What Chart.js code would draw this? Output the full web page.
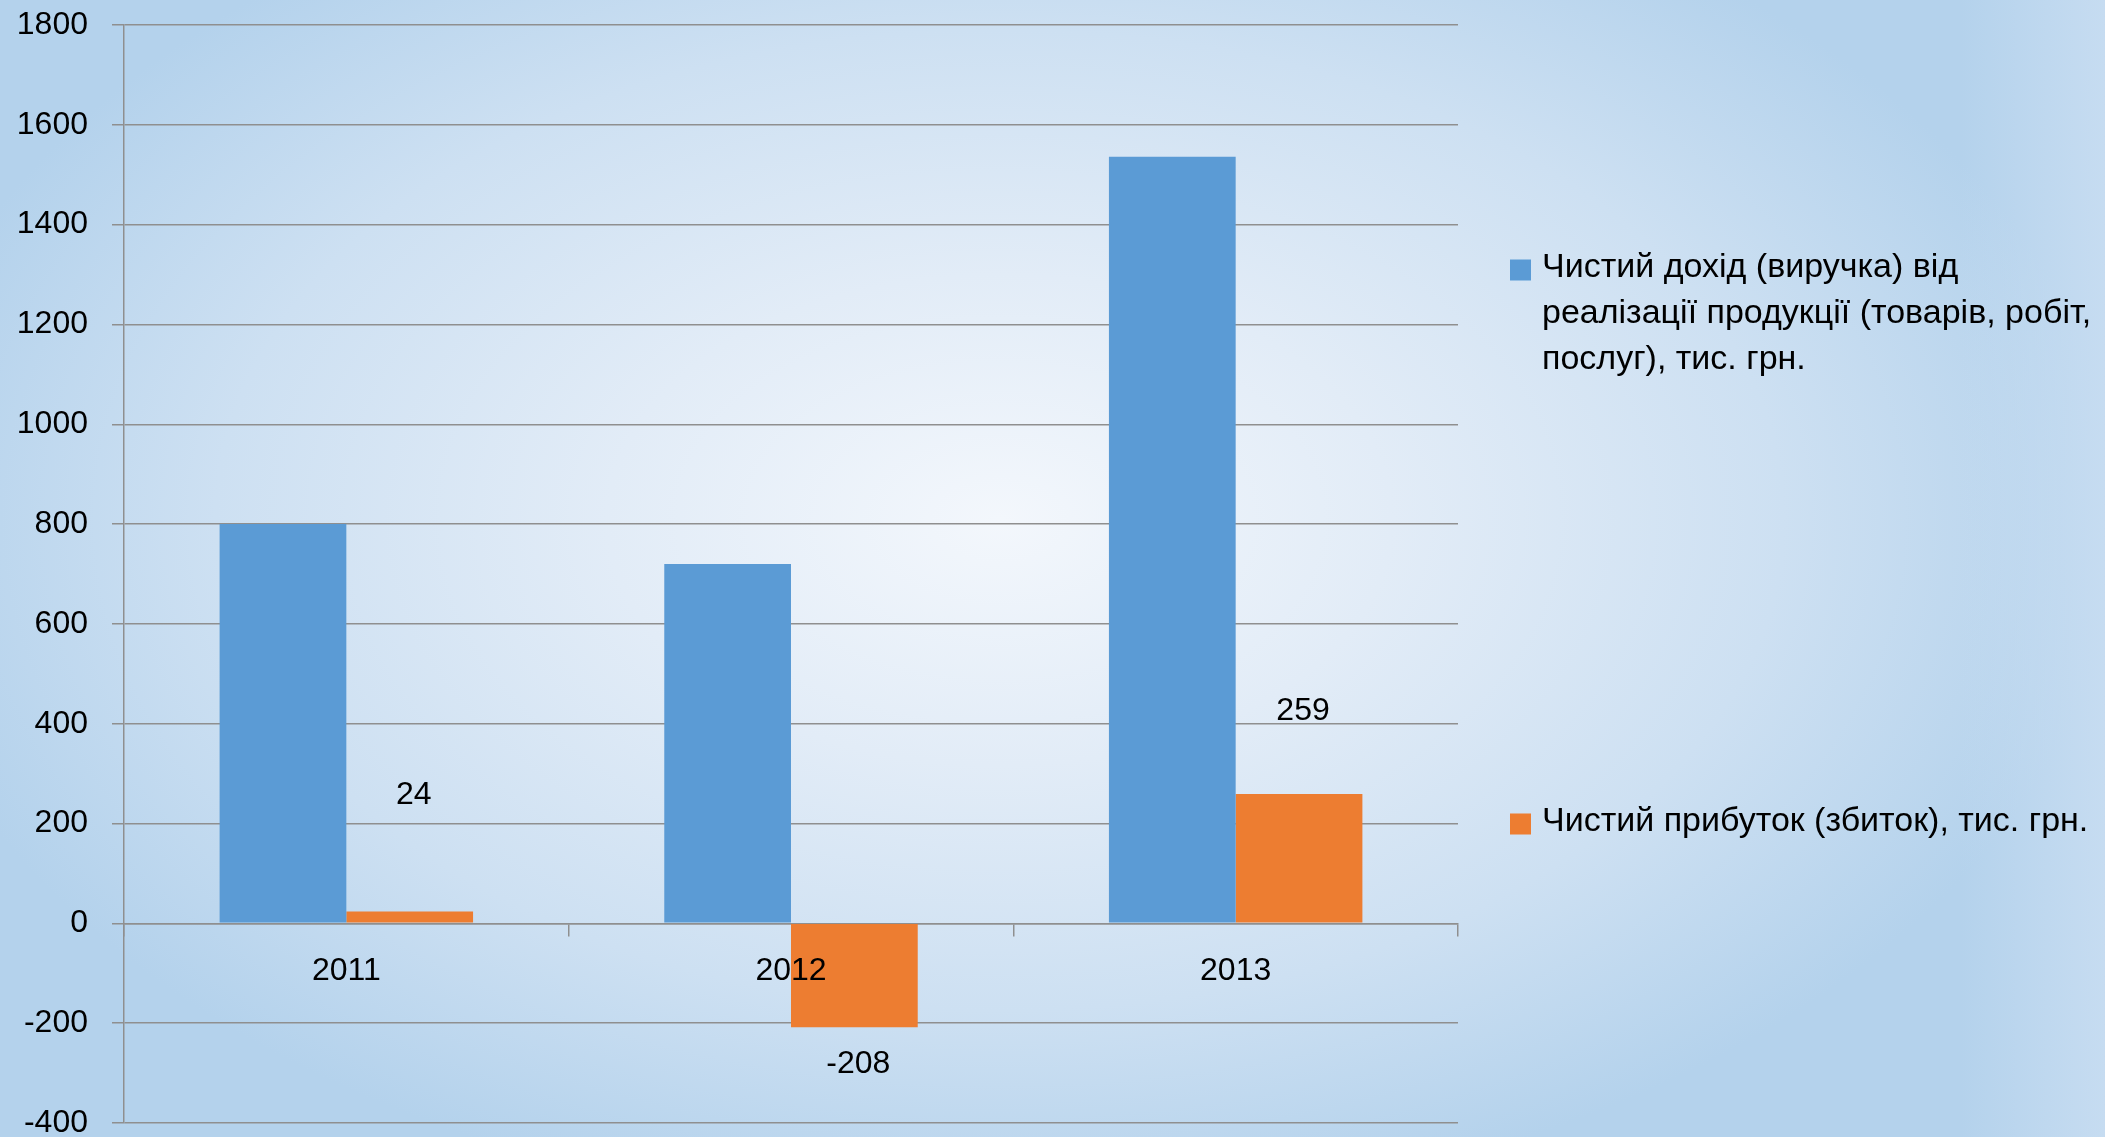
<!DOCTYPE html>
<html>
<head>
<meta charset="utf-8">
<script src="https://cdn.jsdelivr.net/npm/chart.js@4.4.1/dist/chart.umd.min.js"></script>
<style>
html,body{margin:0;padding:0;overflow:hidden;background:#b3d1ec;}
#wrap{width:2105px;height:1137px;position:relative;}
canvas{display:block;}
</style>
</head>
<body>
<div id="wrap"><canvas id="c" width="2105" height="1137"></canvas></div>
<script>
// ---- data ----
const categories = ['2011', '2012', '2013'];
const revenue = [800, 720, 1536];
const profit = [24, -208, 259];
const seriesNames = [
  'Чистий дохід (виручка) від реалізації продукції (товарів, робіт, послуг), тис. грн.',
  'Чистий прибуток (збиток), тис. грн.'
];
const legendLines = [
  ['Чистий дохід (виручка) від', 'реалізації продукції (товарів, робіт,', 'послуг), тис. грн.'],
  ['Чистий прибуток (збиток), тис. грн.']
];
const yMin = -400;
const yMax = 1800;
const yStep = 200;

// ---- styles ----
const FONT_FAMILY = "'Liberation Sans', Arial, sans-serif";
const tickFont = { family: FONT_FAMILY, size: 32 };
const gridColor = '#8f8f8f';
const blue = '#5b9bd5';
const orange = '#ed7d31';

const bgPlugin = {
  id: 'bg',
  beforeDraw(chart) {
    const { ctx, width, height } = chart;
    ctx.save();
    const cx = 1000, cy = 520, rx = 1120, ry = 700;
    ctx.translate(cx, cy);
    ctx.scale(1, ry / rx);
    const g = ctx.createRadialGradient(0, 0, 0, 0, 0, rx);
    g.addColorStop(0, '#f3f7fc');
    g.addColorStop(0.35, '#e2ecf7');
    g.addColorStop(0.7, '#cde0f2');
    g.addColorStop(1, '#b4d2ec');
    ctx.fillStyle = g;
    ctx.fillRect(-4000, -4000, 8000, 8000);
    ctx.restore();
    ctx.save();
    const lg = ctx.createLinearGradient(1960, 0, width, 0);
    lg.addColorStop(0, 'rgba(198,220,241,0)');
    lg.addColorStop(1, 'rgba(198,220,241,1)');
    ctx.fillStyle = lg;
    ctx.fillRect(1960, 0, width - 1960, height);
    ctx.restore();
  }
};

const valueLabels = {
  id: 'valueLabels',
  afterDatasetsDraw(chart, args, opts) {
    const meta = chart.getDatasetMeta(opts.datasetIndex);
    const data = chart.data.datasets[opts.datasetIndex].data;
    const ctx = chart.ctx;
    ctx.save();
    ctx.font = '32px ' + FONT_FAMILY;
    ctx.fillStyle = '#000';
    ctx.textAlign = 'center';
    ctx.textBaseline = 'middle';
    meta.data.forEach((bar, i) => {
      ctx.fillText(String(data[i]), bar.x + 4, bar.y + opts.offsets[i]);
    });
    ctx.restore();
  }
};

const sideLegend = {
  id: 'sideLegend',
  afterDraw(chart, args, opts) {
    const ctx = chart.ctx;
    ctx.save();
    ctx.font = opts.fontSize + 'px ' + FONT_FAMILY;
    ctx.textBaseline = 'middle';
    ctx.textAlign = 'left';
    chart.data.datasets.forEach((ds, i) => {
      const top = opts.tops[i];
      const lines = legendLines[i];
      ctx.fillStyle = ds.backgroundColor;
      ctx.fillRect(opts.boxX, top - opts.boxSize / 2 + 2, opts.boxSize, opts.boxSize);
      ctx.fillStyle = '#000';
      lines.forEach((ln, k) => {
        ctx.fillText(ln, opts.textX, top + k * opts.lineHeight);
      });
    });
    ctx.restore();
  }
};

new Chart(document.getElementById('c'), {
  type: 'bar',
  data: {
    labels: categories,
    datasets: [
      { label: seriesNames[0], data: revenue, backgroundColor: blue, barPercentage: 1, categoryPercentage: 0.57 },
      { label: seriesNames[1], data: profit, backgroundColor: orange, barPercentage: 1, categoryPercentage: 0.57 }
    ]
  },
  options: {
    responsive: false,
    animation: false,
    devicePixelRatio: 1,
    layout: { padding: { left: 0, top: 25, right: 647, bottom: 14 } },
    plugins: {
      legend: { display: false },
      tooltip: { enabled: false },
      valueLabels: { datasetIndex: 1, offsets: [-116, 37, -83] },
      sideLegend: { boxX: 1510, boxSize: 21, textX: 1542, fontSize: 34, lineHeight: 46, tops: [268, 822] }
    },
    scales: {
      x: {
        position: { y: 0 },
        grid: { display: true, drawOnChartArea: false, drawTicks: true, tickLength: 12, color: gridColor, lineWidth: 1.5, offset: true },
        border: { display: true, color: gridColor, width: 1.5 },
        ticks: { font: tickFont, color: '#000', padding: 17, maxRotation: 0, z: 1 },
        afterFit(s) { s.height = 0; s.paddingLeft = 0; s.paddingRight = 0; }
      },
      y: {
        min: yMin,
        max: yMax,
        ticks: { stepSize: yStep, font: tickFont, color: '#000', padding: 24, callback: (v) => String(v) },
        grid: { color: gridColor, lineWidth: 1.5, tickLength: 12, drawTicks: true },
        border: { display: true, color: gridColor, width: 1.5 },
        afterFit(s) { s.width = 124; s.paddingTop = 0; s.paddingBottom = 0; }
      }
    }
  },
  plugins: [bgPlugin, valueLabels, sideLegend]
});
</script>
</body>
</html>
